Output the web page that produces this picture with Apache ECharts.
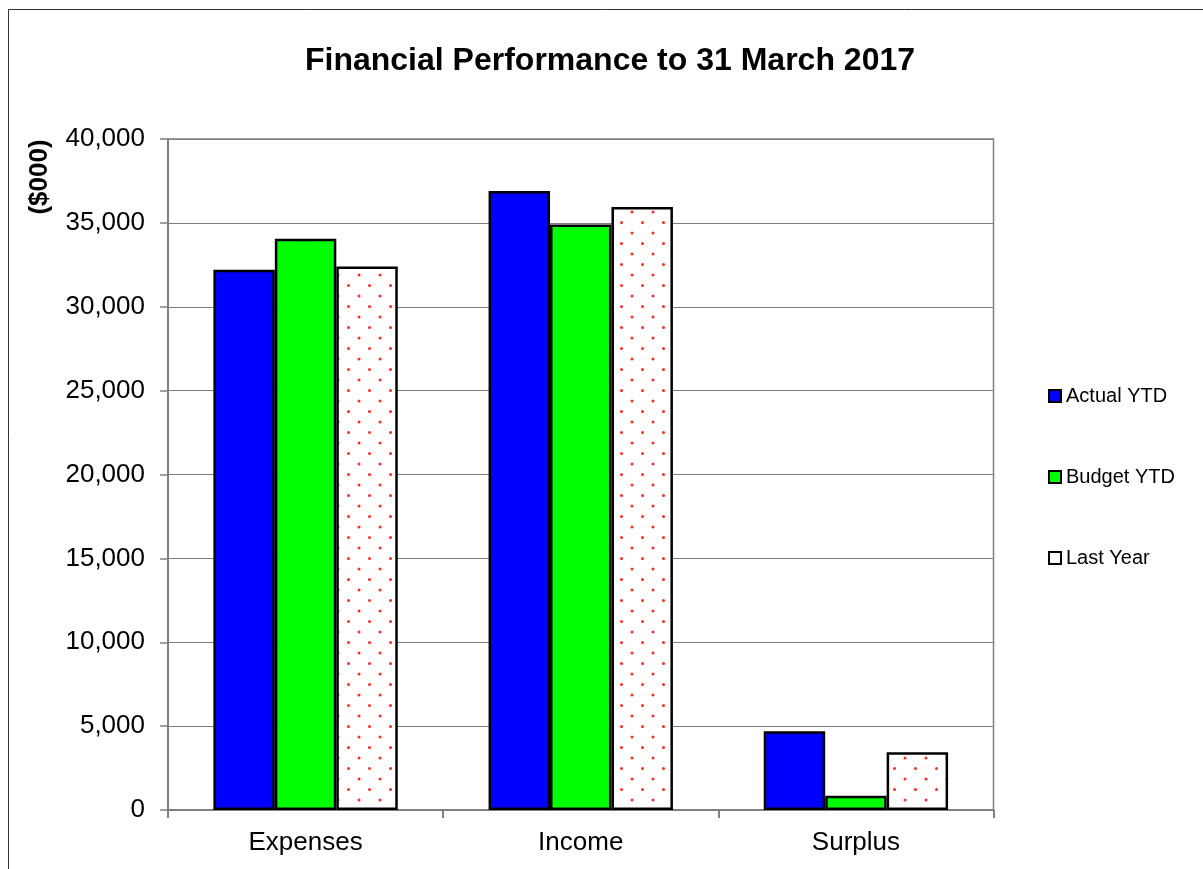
<!DOCTYPE html>
<html>
<head>
<meta charset="utf-8">
<script src="https://cdn.jsdelivr.net/npm/echarts@6/dist/echarts.min.js"></script>
<style>
  html, body { margin: 0; padding: 0; background: #ffffff; }
  #chart { width: 1203px; height: 869px; }
</style>
</head>
<body>
<div id="chart"></div>
<script>
// Financial performance, year to date, in $000
const categories = ['Expenses', 'Income', 'Surplus'];
const seriesNames = ['Actual YTD', 'Budget YTD', 'Last Year'];
const actualYTD = [32200, 36900, 4700];
const budgetYTD = [34050, 34900, 850];
const lastYear = [32400, 35950, 3450];
const yTicks = [0, 5000, 10000, 15000, 20000, 25000, 30000, 35000, 40000];

// Red dot fill for the "Last Year" bars
function dotPattern() {
  const c = document.createElement('canvas');
  c.width = 21; c.height = 21;
  const g = c.getContext('2d');
  g.fillStyle = '#ffffff';
  g.fillRect(0, 0, 21, 21);
  g.fillStyle = '#ff2a2a';
  [[2, 2], [12.5, 12.5]].forEach(([x, y]) => {
    g.beginPath();
    g.arc(x, y, 1.5, 0, Math.PI * 2);
    g.fill();
  });
  return c;
}

const chart = echarts.init(document.getElementById('chart'), null, { renderer: 'canvas' });
const fontFamily = 'Liberation Sans, Arial, sans-serif';
const barBorder = { borderColor: '#000000', borderWidth: 2.5 };

chart.setOption({
  animation: false,
  backgroundColor: '#ffffff',
  title: {
    text: 'Financial Performance to 31 March 2017',
    left: 605,
    textAlign: 'center',
    top: 40,
    textStyle: { fontFamily, fontSize: 32, fontWeight: 'bold', color: '#000000' }
  },
  graphic: [
    {
      type: 'polyline',
      shape: { points: [[8.5, 869], [8.5, 9.5], [1203, 9.5]] },
      style: { stroke: '#333333', lineWidth: 1, fill: null }
    },
    {
      type: 'text',
      x: 40,
      y: 177,
      rotation: Math.PI / 2,
      style: {
        text: '($000)',
        fontFamily,
        fontSize: 26,
        fontWeight: 'bold',
        fill: '#000000',
        align: 'center',
        verticalAlign: 'middle'
      }
    }
  ],
  legend: {
    orient: 'vertical',
    left: 1048,
    top: 386,
    padding: 0,
    itemWidth: 12,
    itemHeight: 12,
    itemGap: 61,
    icon: 'rect',
    itemStyle: { borderColor: '#000000', borderWidth: 2 },
    textStyle: { fontFamily, fontSize: 20, color: '#000000', lineHeight: 20 },
    data: [
      { name: seriesNames[0] },
      { name: seriesNames[1] },
      { name: seriesNames[2], itemStyle: { color: '#ffffff' } }
    ]
  },
  grid: {
    left: 168,
    right: 209.5,
    top: 139,
    bottom: 59,
    show: true,
    borderColor: '#808080',
    borderWidth: 1.5,
    backgroundColor: 'transparent'
  },
  xAxis: {
    type: 'category',
    data: categories,
    axisLine: { lineStyle: { color: '#808080', width: 2 } },
    axisTick: { show: true, length: 8, lineStyle: { color: '#808080', width: 2 } },
    axisLabel: { fontFamily, fontSize: 26, color: '#000000', margin: 20 }
  },
  yAxis: {
    type: 'value',
    min: yTicks[0],
    max: yTicks[yTicks.length - 1],
    interval: yTicks[1] - yTicks[0],
    axisLine: { show: true, lineStyle: { color: '#808080', width: 2 } },
    axisTick: { show: true, length: 8, lineStyle: { color: '#808080', width: 1.5 } },
    splitLine: { show: true, lineStyle: { color: '#808080', width: 1.2 } },
    axisLabel: {
      fontFamily, fontSize: 26, color: '#000000', margin: 23,
      formatter: v => v.toLocaleString('en-US')
    }
  },
  series: [
    {
      name: seriesNames[0], type: 'bar', data: actualYTD,
      barGap: '0%', barCategoryGap: '33%',
      itemStyle: Object.assign({ color: '#0000ff' }, barBorder)
    },
    {
      name: seriesNames[1], type: 'bar', data: budgetYTD,
      itemStyle: Object.assign({ color: '#00ff00' }, barBorder)
    },
    {
      name: seriesNames[2], type: 'bar', data: lastYear,
      itemStyle: Object.assign({ color: { image: dotPattern(), repeat: 'repeat' } }, barBorder)
    }
  ]
});
</script>
</body>
</html>
